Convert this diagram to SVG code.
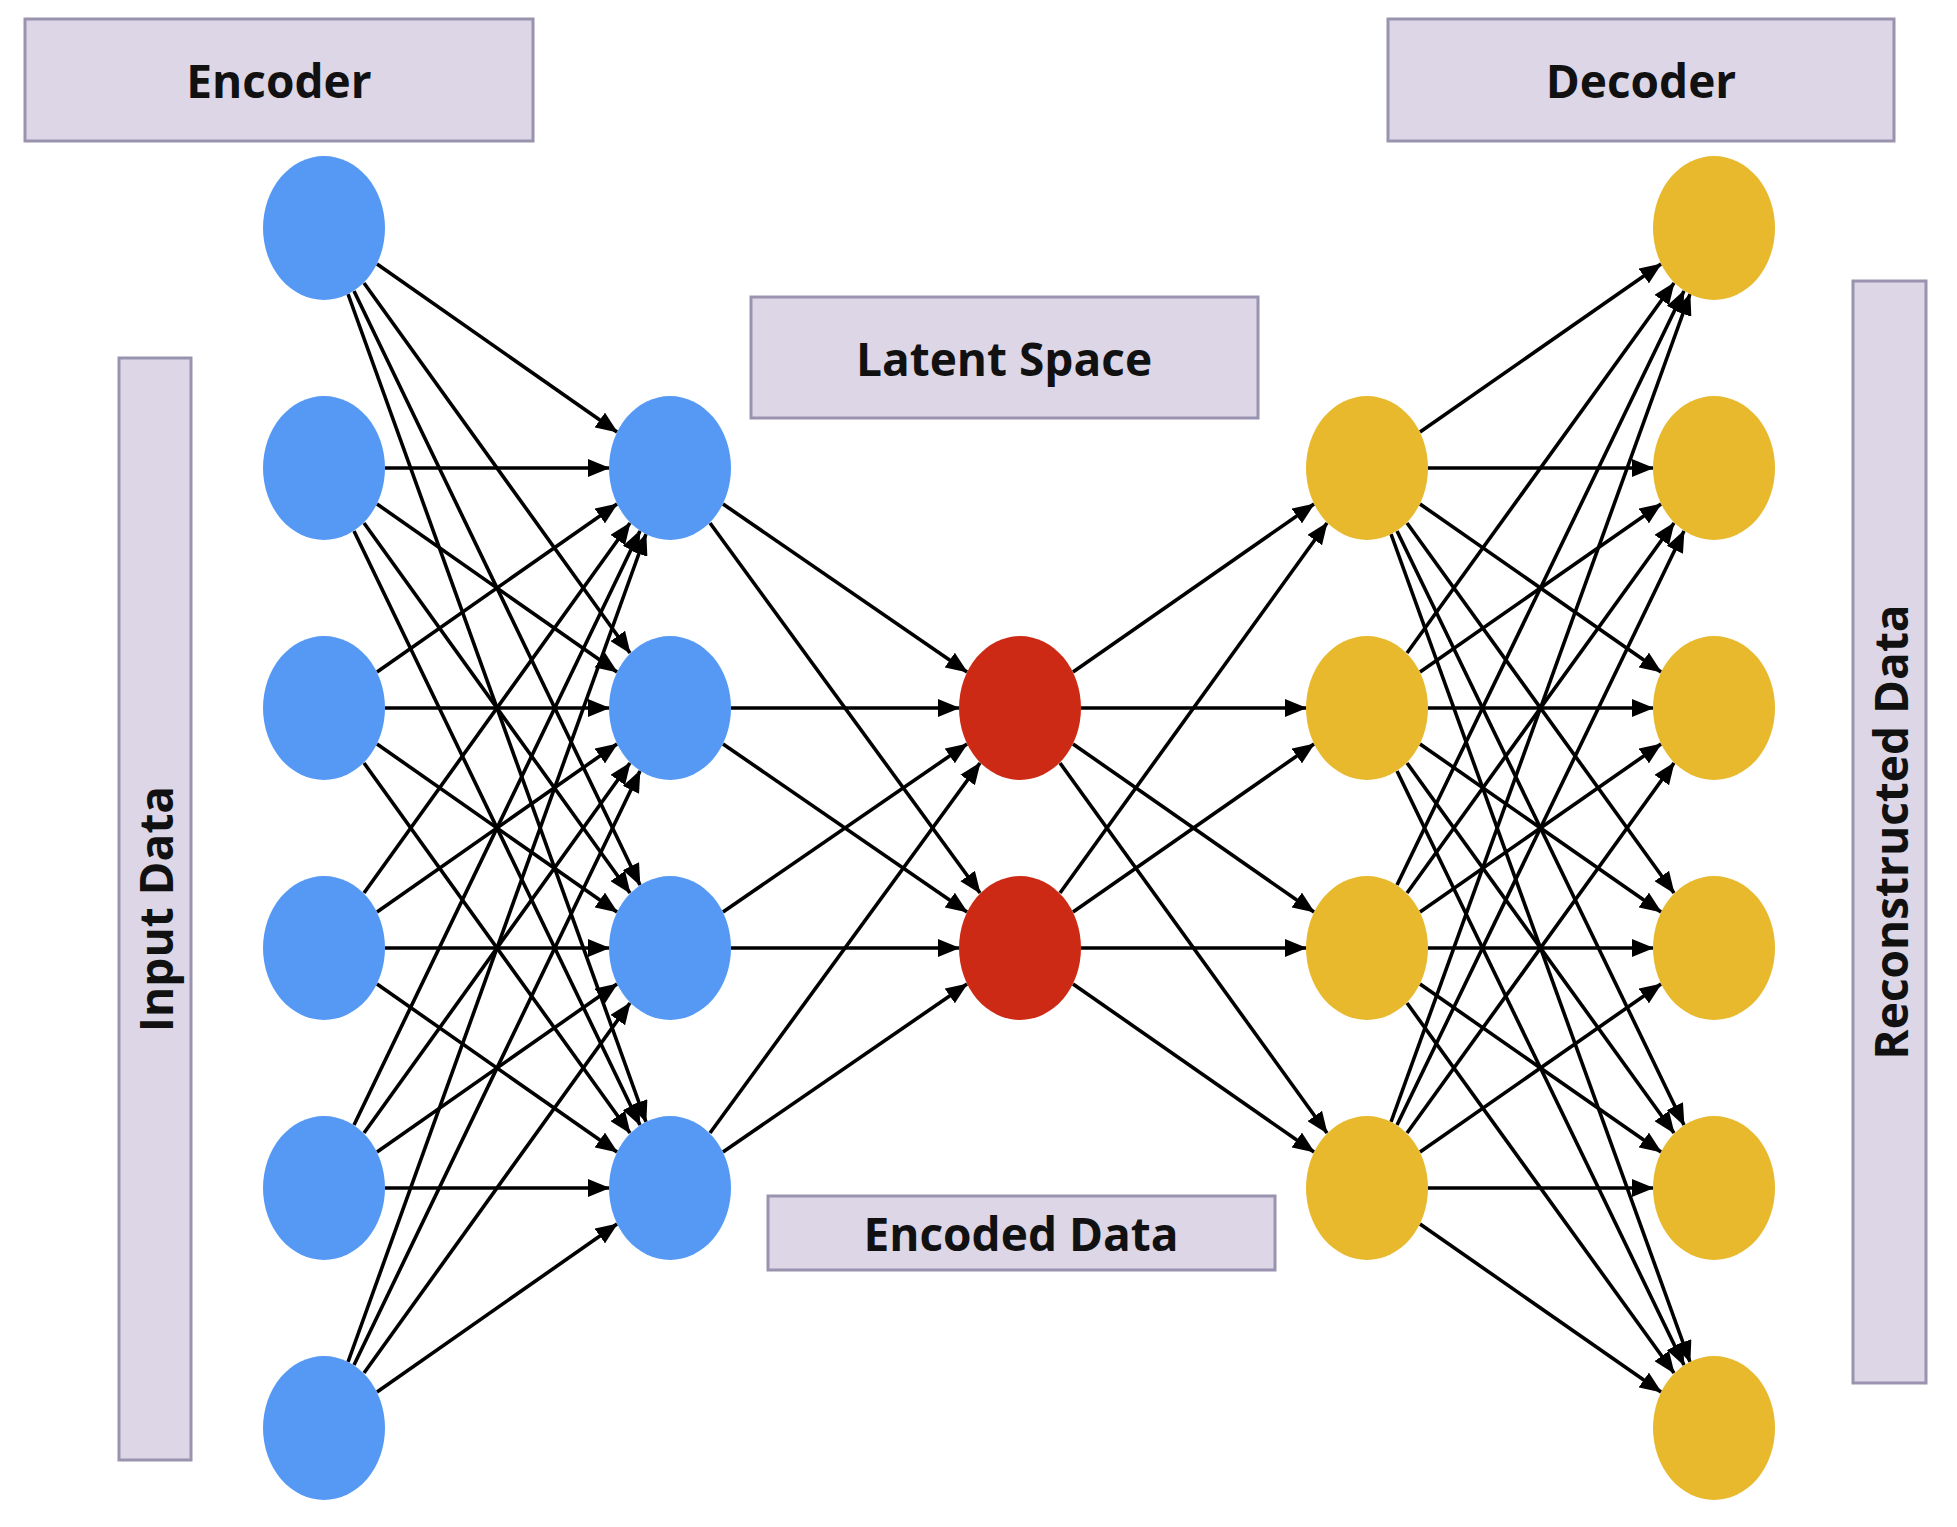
<svg xmlns="http://www.w3.org/2000/svg" width="1957" height="1527" viewBox="0 0 1957 1527">
<style>
.box{fill:#dcd6e6;stroke:#9a93b0;stroke-width:3}
.lbl{font-family:"Open Sans","Liberation Sans",sans-serif;font-weight:700;font-size:46px;fill:#111;text-anchor:middle;dominant-baseline:central}
.in{fill:#5599f5}.lat{fill:#cc2a14}.out{fill:#e8b92c}
#edges path{stroke:#000;stroke-width:3.6;fill:none;marker-end:url(#ah)}
</style>
<defs><marker id="ah" markerUnits="userSpaceOnUse" markerWidth="22" markerHeight="18" refX="21" refY="9" orient="auto"><path d="M0,0 L22,9 L0,18 Z" fill="#000"/></marker></defs>
<rect width="1957" height="1527" fill="#fff"/>
<g id="labels">
<g id="encoder-label"><rect class="box" x="25" y="19" width="508" height="122"/><text class="lbl" x="279" y="80">Encoder</text></g>
<g id="decoder-label"><rect class="box" x="1388" y="19" width="506" height="122"/><text class="lbl" x="1641" y="80">Decoder</text></g>
<g id="latent-label"><rect class="box" x="751" y="297" width="507" height="121"/><text class="lbl" x="1004" y="358">Latent Space</text></g>
<g id="encoded-label"><rect class="box" x="768" y="1196" width="507" height="74"/><text class="lbl" x="1021" y="1233">Encoded Data</text></g>
<g id="input-label"><rect class="box" x="119" y="358" width="72" height="1102"/><text class="lbl" transform="translate(155,909) rotate(-90)">Input Data</text></g>
<g id="recon-label"><rect class="box" x="1853" y="281" width="73" height="1102"/><text class="lbl" transform="translate(1890,832) rotate(-90)">Reconstructed Data</text></g>
</g>
<g id="edges">
<path d="M377,264 L617,432"/><path d="M364,283 L630,653"/><path d="M354,291 L640,885"/><path d="M348,294 L646,1122"/>
<path d="M385,468 L609,468"/><path d="M377,504 L617,672"/><path d="M364,523 L630,893"/><path d="M354,531 L640,1125"/>
<path d="M377,672 L617,504"/><path d="M385,708 L609,708"/><path d="M377,744 L617,912"/><path d="M364,763 L630,1133"/>
<path d="M364,893 L630,523"/><path d="M377,912 L617,744"/><path d="M385,948 L609,948"/><path d="M377,984 L617,1152"/>
<path d="M354,1125 L640,531"/><path d="M364,1133 L630,763"/><path d="M377,1152 L617,984"/><path d="M385,1188 L609,1188"/>
<path d="M348,1362 L646,534"/><path d="M354,1365 L640,771"/><path d="M364,1373 L630,1003"/><path d="M377,1392 L617,1224"/>
<path d="M723,504 L967,672"/><path d="M710,523 L980,893"/><path d="M731,708 L959,708"/><path d="M723,744 L967,912"/>
<path d="M723,912 L967,744"/><path d="M731,948 L959,948"/><path d="M710,1133 L980,763"/><path d="M723,1152 L967,984"/>
<path d="M1073,672 L1314,504"/><path d="M1081,708 L1306,708"/><path d="M1073,744 L1314,912"/><path d="M1060,763 L1327,1133"/>
<path d="M1060,893 L1327,523"/><path d="M1073,912 L1314,744"/><path d="M1081,948 L1306,948"/><path d="M1073,984 L1314,1152"/>
<path d="M1420,432 L1661,264"/><path d="M1428,468 L1653,468"/><path d="M1420,504 L1661,672"/><path d="M1407,523 L1674,893"/><path d="M1397,531 L1684,1125"/><path d="M1391,534 L1690,1362"/>
<path d="M1407,653 L1674,283"/><path d="M1420,672 L1661,504"/><path d="M1428,708 L1653,708"/><path d="M1420,744 L1661,912"/><path d="M1407,763 L1674,1133"/><path d="M1397,771 L1684,1365"/>
<path d="M1397,885 L1684,291"/><path d="M1407,893 L1674,523"/><path d="M1420,912 L1661,744"/><path d="M1428,948 L1653,948"/><path d="M1420,984 L1661,1152"/><path d="M1407,1003 L1674,1373"/>
<path d="M1391,1122 L1690,294"/><path d="M1397,1125 L1684,531"/><path d="M1407,1133 L1674,763"/><path d="M1420,1152 L1661,984"/><path d="M1428,1188 L1653,1188"/><path d="M1420,1224 L1661,1392"/>
</g>
<g id="input-nodes" class="in">
<ellipse id="i0" cx="324" cy="228" rx="61" ry="72"/><ellipse id="i1" cx="324" cy="468" rx="61" ry="72"/><ellipse id="i2" cx="324" cy="708" rx="61" ry="72"/><ellipse id="i3" cx="324" cy="948" rx="61" ry="72"/><ellipse id="i4" cx="324" cy="1188" rx="61" ry="72"/><ellipse id="i5" cx="324" cy="1428" rx="61" ry="72"/>
</g>
<g id="hidden-enc" class="in">
<ellipse id="h0" cx="670" cy="468" rx="61" ry="72"/><ellipse id="h1" cx="670" cy="708" rx="61" ry="72"/><ellipse id="h2" cx="670" cy="948" rx="61" ry="72"/><ellipse id="h3" cx="670" cy="1188" rx="61" ry="72"/>
</g>
<g id="latent-nodes" class="lat">
<ellipse id="l0" cx="1020" cy="708" rx="61" ry="72"/><ellipse id="l1" cx="1020" cy="948" rx="61" ry="72"/>
</g>
<g id="hidden-dec" class="out">
<ellipse id="d0" cx="1367" cy="468" rx="61" ry="72"/><ellipse id="d1" cx="1367" cy="708" rx="61" ry="72"/><ellipse id="d2" cx="1367" cy="948" rx="61" ry="72"/><ellipse id="d3" cx="1367" cy="1188" rx="61" ry="72"/>
</g>
<g id="output-nodes" class="out">
<ellipse id="o0" cx="1714" cy="228" rx="61" ry="72"/><ellipse id="o1" cx="1714" cy="468" rx="61" ry="72"/><ellipse id="o2" cx="1714" cy="708" rx="61" ry="72"/><ellipse id="o3" cx="1714" cy="948" rx="61" ry="72"/><ellipse id="o4" cx="1714" cy="1188" rx="61" ry="72"/><ellipse id="o5" cx="1714" cy="1428" rx="61" ry="72"/>
</g>
</svg>
